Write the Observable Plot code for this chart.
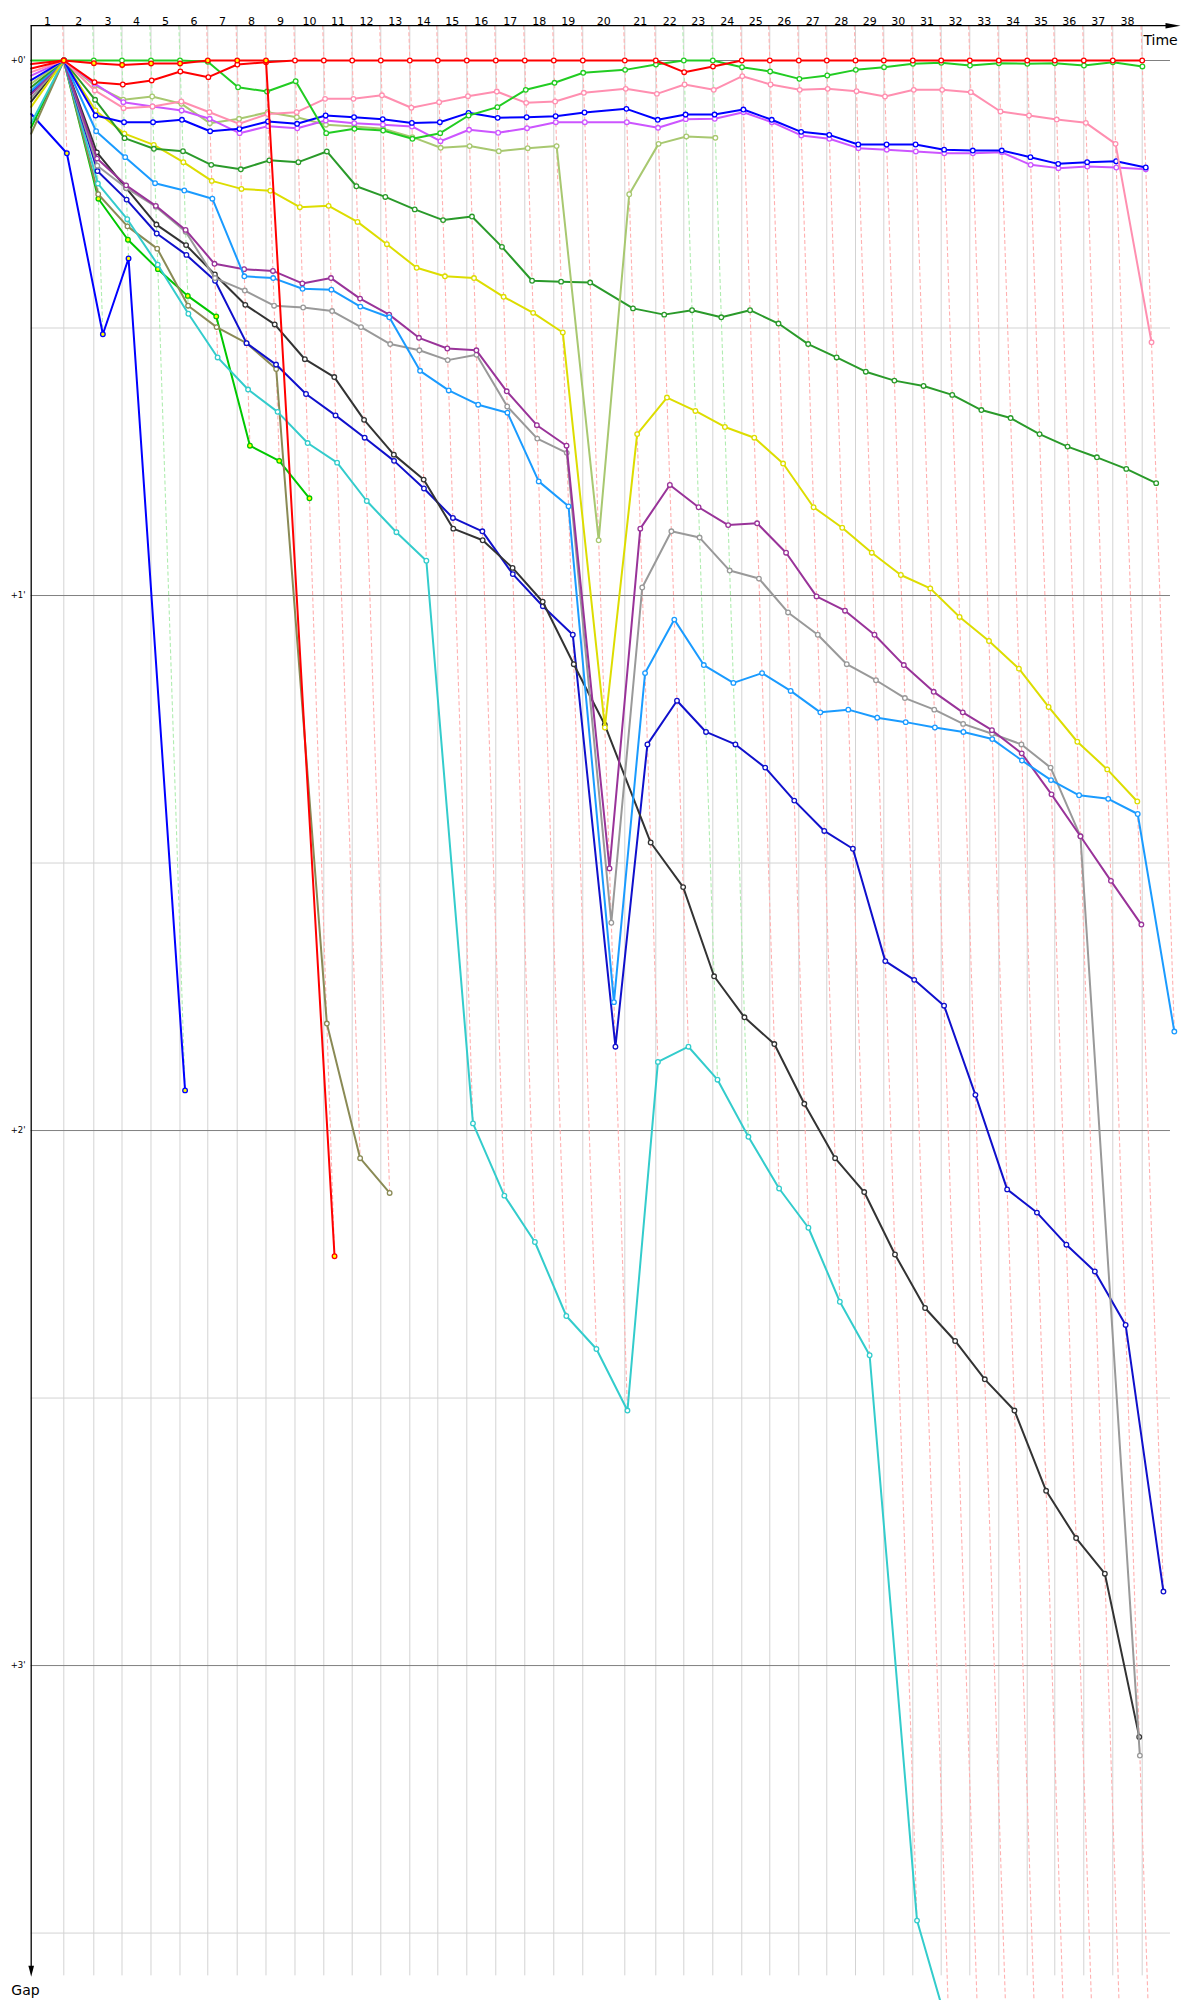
<!DOCTYPE html>
<html><head><meta charset="utf-8">
<script src="https://cdn.jsdelivr.net/npm/d3@7"></script>
<script src="https://cdn.jsdelivr.net/npm/@observablehq/plot@0.6"></script>
<style>html,body{margin:0;padding:0;background:#fff}</style>
</head><body><div id="chart"></div>
<script>
// ---------- DATA ----------
// leader's cumulative race time (s) at the end of each lap 1..38
const lapNumbers = d3.range(1, 39);
const leaderTimes = [110.5, 212.2, 307.8, 406.1, 504.4, 598.6, 698.3, 795.9, 894.2, 991.9,
  1088.1, 1185.1, 1283.4, 1378.3, 1476.6, 1574.9, 1673.2, 1771.5, 1869.8, 2012.2,
  2117.3, 2212.2, 2310.5, 2408.8, 2503.7, 2602.0, 2696.9, 2794.2, 2890.2, 2988.5,
  3084.7, 3181.7, 3280.0, 3376.3, 3469.8, 3568.1, 3666.4, 3766.1];
// which car led each lap (colour of the lap line)
const lapLeader = ["red","green","green","green","green","red","red","red","red","red",
  "red","red","red","red","red","red","red","red","red","red",
  "red","green","green","red","red","red","red","red","red","red",
  "red","red","red","red","red","red","red","red"];
const gapMinutes = [0, 1, 2, 3];
const gapHalfMinutes = [0.5, 1.5, 2.5, 3.5];

// gaps to leader in seconds, index 0 = start, index n = end of lap n
const gapsRed = [0.9, 0, 2.43, 2.69, 2.24, 1.23, 1.87, 0.45, 0.19, 0, 0, 0, 0, 0, 0, 0, 0, 0, 0, 0, 0, 0,
  1.31, 0.67, 0, 0, 0, 0, 0, 0, 0, 0, 0, 0, 0, 0, 0, 0, 0];
const gapsRedOut = [0.4, 0, 0.3, 0.5, 0.33, 0.33, 0, 0, 0, 134.1];
const gapsGreen = [0, 0, 0, 0, 0, 0, 0.15, 3.0, 3.48, 2.32, 8.15, 7.66, 7.85, 8.78, 8.15, 6.17, 5.23, 3.29, 2.5, 1.38,
  1.05, 0.45, 0, 0, 0.75, 1.23, 2.06, 1.68, 1.05, 0.75, 0.37, 0.26, 0.56, 0.3, 0.37, 0.3, 0.56, 0.19, 0.67];
const gapsPink = [1.3, 0, 3.36, 5.35, 5.16, 4.6, 5.8, 7.1, 6.0, 5.8, 4.3, 4.3, 3.9, 5.3, 4.67, 4.0, 3.48, 4.75, 4.6, 3.62,
  3.18, 3.74, 2.69, 3.29, 1.76, 2.69, 3.29, 3.18, 3.44, 4.04, 3.29, 3.29, 3.55, 5.72, 6.17, 6.62, 6.99, 9.35, 31.6];
const gapsBlue = [2.2, 0, 6.17, 6.92, 6.92, 6.65, 7.93, 7.66, 6.84, 7.1, 6.17, 6.36, 6.58, 7.0, 6.92, 5.87, 6.43, 6.36, 6.24, 5.83,
  5.42, 6.65, 6.06, 6.06, 5.5, 6.65, 8.0, 8.34, 9.42, 9.42, 9.42, 10.0, 10.1, 10.1, 10.84, 11.59, 11.4, 11.3, 12.0];
const gapsViolet = [1.7, 0, 2.6, 4.67, 5.16, 5.6, 6.54, 8.15, 7.36, 7.6, 6.73, 7.03, 7.2, 7.4, 9.05, 7.77, 8.1, 7.59, 6.92, 6.92,
  6.92, 7.55, 6.58, 6.54, 5.8, 6.92, 8.4, 8.78, 9.83, 10.0, 10.2, 10.4, 10.4, 10.3, 11.7, 12.07, 11.9, 12.0, 12.2];
const gapsSage = [2.6, 0, 2.8, 4.4, 4.04, 4.86, 7.03, 6.54, 5.8, 6.36, 7.2, 7.4, 7.66, 8.6, 9.79, 9.6, 10.17, 9.83, 9.6, 53.8,
  15.0, 9.35, 8.52, 8.67];
const gapsForest = [3.0, 0, 4.41, 8.71, 9.9, 10.17, 11.7, 12.2, 11.2, 11.4, 10.2, 14.1, 15.3, 16.7, 17.9, 17.5, 20.9, 24.7, 24.8, 24.9,
  27.8, 28.5, 28.0, 28.8, 28.0, 29.5, 31.8, 33.3, 34.9, 35.9, 36.5, 37.5, 39.2, 40.1, 41.9, 43.3, 44.5, 45.8, 47.4];
const gapsYellow = [5.2, 0, 5.6, 8.2, 9.46, 11.4, 13.5, 14.4, 14.6, 16.45, 16.3, 18.1, 20.6, 23.25, 24.2, 24.4, 26.5, 28.3, 30.5, 74.8,
  41.9, 37.8, 39.3, 41.1, 42.3, 45.2, 50.1, 52.4, 55.2, 57.7, 59.2, 62.4, 65.1, 68.2, 72.5, 76.4, 79.5, 83.1];
const gapsSky = [3.4, 0, 7.93, 10.84, 13.76, 14.58, 15.5, 24.2, 24.4, 25.6, 25.7, 27.6, 28.8, 34.8, 37.0, 38.6, 39.5, 47.2, 50.0, 105.6,
  68.7, 62.7, 67.8, 69.8, 68.7, 70.7, 73.1, 72.8, 73.7, 74.2, 74.8, 75.3, 76.1, 78.5, 80.7, 82.4, 82.8, 84.5, 108.9];
const gapsPlum = [3.8, 0, 11.0, 14.0, 16.3, 19.0, 22.8, 23.4, 23.6, 25.0, 24.4, 26.7, 28.5, 31.1, 32.3, 32.5, 37.1, 40.9, 43.2, 90.6,
  52.5, 47.6, 50.1, 52.1, 51.9, 55.2, 60.1, 61.7, 64.4, 67.8, 70.8, 73.1, 75.1, 77.7, 82.3, 87.0, 92.0, 96.9];
const gapsGrey = [4.2, 0, 11.8, 14.3, 16.4, 19.2, 24.4, 25.8, 27.5, 27.7, 28.1, 29.9, 31.8, 32.5, 33.6, 33.0, 38.8, 42.4, 44.0, 96.7,
  59.1, 52.8, 53.5, 57.2, 58.1, 61.9, 64.4, 67.7, 69.5, 71.5, 72.8, 74.4, 75.5, 76.7, 79.3, 87.0, 190.1];
const gapsBlack = [4.6, 0, 10.3, 14.3, 18.4, 20.7, 24.0, 27.4, 29.6, 33.5, 35.5, 40.3, 44.2, 47.0, 52.5, 53.8, 56.9, 60.7, 67.7, 74.5,
  87.7, 92.7, 102.7, 107.3, 110.3, 117.0, 123.1, 126.9, 133.9, 139.9, 143.6, 147.9, 151.4, 160.4, 165.7, 169.7, 188.0];
const gapsNavy = [3.6, 0, 12.4, 15.6, 19.4, 21.8, 24.7, 31.7, 34.1, 37.4, 39.8, 42.3, 44.9, 48.0, 51.3, 52.8, 57.6, 61.2, 64.4, 110.6,
  76.7, 71.8, 75.3, 76.7, 79.3, 83.0, 86.4, 88.4, 101.0, 103.1, 106.0, 116.0, 126.6, 129.2, 132.8, 135.8, 141.8, 171.7];
const gapsCyan = [7.0, 0, 13.8, 17.8, 22.9, 28.4, 33.3, 36.9, 39.4, 42.9, 45.1, 49.4, 52.9, 56.1, 119.2, 127.3, 132.5, 140.8, 144.5, 151.4,
  112.3, 110.6, 114.3, 120.7, 126.5, 130.9, 139.2, 145.2, 208.6, 221, 229, 236, 244, 250, 259, 265, 274];
const gapsKhaki = [8.2, 0, 15.0, 18.6, 21.1, 27.5, 29.9, 31.7, 34.6, 108.0, 123.1, 127.0];
const gapsLimeOut = [7.5, 0, 15.5, 20.1, 23.4, 26.4, 28.7, 43.2, 44.9, 49.1];
const gapsBlueOut = [6.0, 10.4, 30.7, 22.2, 115.5];

// drawing order: last drawn is on top
const series = [
  {gaps: gapsBlueOut, color: "#0000ff", fill: "#ffff00"},
  {gaps: gapsLimeOut, color: "#00c800", fill: "#ffff00"},
  {gaps: gapsKhaki, color: "#8a8a55", fill: "#ffffff"},
  {gaps: gapsCyan, color: "#33cccc", fill: "#ffffff"},
  {gaps: gapsNavy, color: "#1010cc", fill: "#ffffff"},
  {gaps: gapsBlack, color: "#333333", fill: "#ffffff"},
  {gaps: gapsGrey, color: "#999999", fill: "#ffffff"},
  {gaps: gapsPlum, color: "#993399", fill: "#ffffff"},
  {gaps: gapsSky, color: "#1a9bff", fill: "#ffffff"},
  {gaps: gapsYellow, color: "#dddd00", fill: "#ffffff"},
  {gaps: gapsForest, color: "#2a9a2a", fill: "#ffffff"},
  {gaps: gapsSage, color: "#a8c870", fill: "#ffffff"},
  {gaps: gapsViolet, color: "#cc55ff", fill: "#ffffff"},
  {gaps: gapsBlue, color: "#0000ff", fill: "#ffffff"},
  {gaps: gapsPink, color: "#ff8fb0", fill: "#ffffff"},
  {gaps: gapsGreen, color: "#22cc22", fill: "#ffffff"},
  {gaps: gapsRed, color: "#ff0000", fill: "#ffffff"},
  {gaps: gapsRedOut, color: "#ff0000", fill: "#ffff00"}
];

// ---------- LAYOUT ----------
const W = 1200, H = 2000;
const xLeft = 30.7, xPxPerSec = 0.295;      // time axis
const yZero = 60, yPxPerSec = 8.917;        // gap axis
const gapTop = -3.9, gapBottom = 214.8;     // vertical extent of the frame (s)
const tMax = 3900;
const gridEndT = 3862, arrowTipT = 3896;

function pointsOf(s) {
  return s.gaps.map((g, i) => ({lap: i, gap: g, t: i === 0 ? 0 : leaderTimes[i - 1] + g}));
}
const allPoints = series.map(pointsOf);

// end of each lap line = last car's gap on that lap
const lapLines = lapNumbers.map((lap, i) => {
  let end = 0;
  for (const pts of allPoints) if (pts[lap] && pts[lap].gap > end) end = pts[lap].gap;
  return {lap, t: leaderTimes[i], end, leader: lapLeader[i]};
});
const lapLabels = lapNumbers.map((lap, i) => ({lap, mid: ((i === 0 ? 0 : leaderTimes[i - 1]) + leaderTimes[i]) / 2}));

const arrowRight = {draw(ctx) { ctx.moveTo(0, 0); ctx.lineTo(-15, -2.8); ctx.lineTo(-15, 2.8); ctx.closePath(); }};
const arrowDown = {draw(ctx) { ctx.moveTo(0, 0); ctx.lineTo(-2.8, -11); ctx.lineTo(2.8, -11); ctx.closePath(); }};

const marks = [
  // vertical lap grid
  Plot.ruleX(leaderTimes, {y1: gapTop, y2: gapBottom, stroke: "#d3d3d3", strokeWidth: 1}),
  // horizontal grid
  Plot.ruleY(gapHalfMinutes, {y: d => d * 60, x1: 0, x2: gridEndT, stroke: "#d3d3d3", strokeWidth: 1}),
  Plot.ruleY(gapMinutes, {y: d => d * 60, x1: 0, x2: gridEndT, stroke: "#808080", strokeWidth: 1}),
  // lap lines
  Plot.link(lapLines.filter(d => d.leader === "red"), {
    x1: d => d.t + gapTop, y1: gapTop, x2: d => d.t + d.end, y2: "end",
    stroke: "#ffb0b0", strokeWidth: 1.1, strokeDasharray: "4,2.5"}),
  Plot.link(lapLines.filter(d => d.leader === "green"), {
    x1: d => d.t + gapTop, y1: gapTop, x2: d => d.t + d.end, y2: "end",
    stroke: "#b0ecb0", strokeWidth: 1.1, strokeDasharray: "4,2.5"}),
];
for (let k = 0; k < series.length; k++) {
  const s = series[k], pts = allPoints[k];
  marks.push(Plot.line(pts, {x: "t", y: "gap", stroke: s.color, strokeWidth: 2}));
  marks.push(Plot.dot(pts.filter(d => d.lap > 0), {x: "t", y: "gap", r: 2.3, fill: s.fill, stroke: s.color, strokeWidth: 1.3}));
}
marks.push(
  // axes
  Plot.ruleY([gapTop], {x1: 0, x2: arrowTipT - 20, stroke: "black", strokeWidth: 1.3}),
  Plot.ruleX([0], {y1: gapTop, y2: gapBottom - 0.5, stroke: "black", strokeWidth: 1.3}),
  Plot.dot([{t: arrowTipT, g: gapTop}], {x: "t", y: "g", symbol: arrowRight, fill: "black", stroke: "none"}),
  Plot.dot([{t: 0, g: gapBottom + 0.1}], {x: "t", y: "g", symbol: arrowDown, fill: "black", stroke: "none"}),
  // lap numbers
  Plot.text(lapLabels, {x: "mid", text: "lap", frameAnchor: "top", dy: 17, fontSize: 11, fill: "black"}),
  // gap labels
  Plot.text(gapMinutes, {y: d => d * 60, text: d => `+${d}'`, frameAnchor: "left", dx: 25, textAnchor: "end", fontSize: 8.5, fill: "black"}),
  Plot.text(["Time"], {frameAnchor: "top-left", dx: 1160, dy: 35, textAnchor: "middle", fontSize: 14, fill: "black"}),
  Plot.text(["Gap"], {frameAnchor: "top-left", dx: 25, dy: 1985, textAnchor: "middle", fontSize: 14, fill: "black"})
);

const chart = Plot.plot({
  width: W, height: H,
  marginTop: 0, marginRight: 0, marginBottom: 0, marginLeft: 0,
  x: {domain: [0, tMax], range: [xLeft, xLeft + tMax * xPxPerSec], axis: null},
  y: {domain: [gapTop, gapBottom], range: [yZero + gapTop * yPxPerSec, yZero + gapBottom * yPxPerSec], axis: null},
  style: {fontFamily: "'DejaVu Sans', Verdana, sans-serif", background: "white", overflow: "hidden"},
  marks
});
document.getElementById("chart").appendChild(chart);
</script>
</body></html>
